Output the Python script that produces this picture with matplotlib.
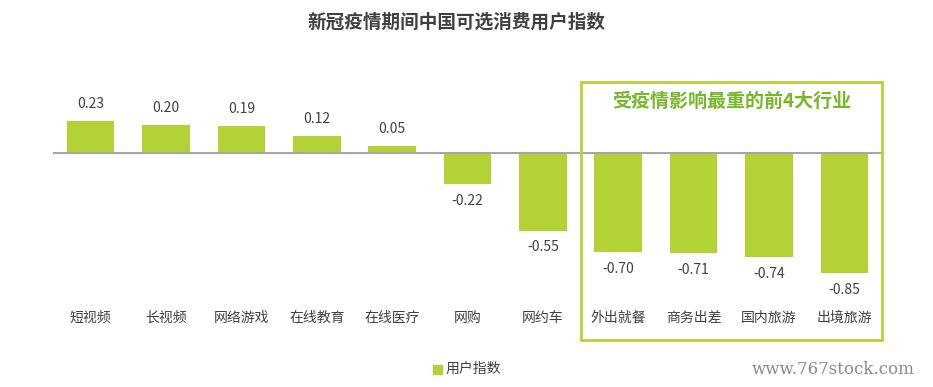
import matplotlib.pyplot as plt
from matplotlib.patches import Rectangle

plt.rcParams['font.family'] = ['Noto Sans CJK SC', 'DejaVu Sans']

# 数据
categories = ['短视频', '长视频', '网络游戏', '在线教育', '在线医疗', '网购', '网约车',
              '外出就餐', '商务出差', '国内旅游', '出境旅游']
values = [0.23, 0.20, 0.19, 0.12, 0.05, -0.22, -0.55, -0.70, -0.71, -0.74, -0.85]
labels = ['0.23', '0.20', '0.19', '0.12', '0.05', '-0.22', '-0.55',
          '-0.70', '-0.71', '-0.74', '-0.85']

bar_color = '#b2d235'
text_color = '#404040'

fig = plt.figure(figsize=(9.33, 3.87), dpi=100)
W, H = 933, 387
# axes: x 53..882 px, y 60..340 px (from top)
ax = fig.add_axes([53 / W, 1 - 340 / H, (882 - 53) / W, (340 - 60) / H])
ax.set_xlim(-0.5, 10.5)
ax.set_ylim(-(340 - 153) / 141, (153 - 60) / 141)
ax.axis('off')

x = list(range(len(categories)))
ax.bar(x, values, width=0.63, color=bar_color, zorder=2)
ax.axhline(0, color='#a6a6a6', lw=1.5, zorder=3)

for i, v in enumerate(values):
    if v >= 0:
        ax.text(i, v + 0.07, labels[i], ha='center', va='bottom', fontsize=10, color=text_color)
    else:
        ax.text(i, v - 0.07, labels[i], ha='center', va='top', fontsize=10, color=text_color)
    ax.text(i, -(318 - 153) / 141, categories[i], ha='center', va='center',
            fontsize=10, color=text_color)

# 高亮框
y_top = (153 - 82) / 141
y_bot = -(340 - 153) / 141
ax.add_patch(Rectangle((6.5, y_bot), 4.0, y_top - y_bot, fill=False,
                       edgecolor='#b5d334', lw=2, clip_on=False, zorder=4))
ax.text(8.5, (153 - 101) / 141, '受疫情影响最重的前4大行业', ha='center', va='center',
        fontsize=13.7, fontweight='bold', color='#76b82a')

fig.text(456 / W, 1 - 22 / H, '新冠疫情期间中国可选消费用户指数', ha='center', va='center',
         fontsize=13.4, fontweight='bold', color=text_color)

# 图例
fig.patches.append(Rectangle((433 / W, 1 - 374 / H), 9 / W, 9 / H, color=bar_color,
                             transform=fig.transFigure, figure=fig))
fig.text(446 / W, 1 - 369 / H, '用户指数', ha='left', va='center', fontsize=10, color=text_color)

fig.text(915 / W, 1 - 370 / H, 'www.767stock.com', ha='right', va='center', fontsize=12,
         color='#8a8a8a', family='DejaVu Serif')

fig.savefig('out.png', dpi=100)
